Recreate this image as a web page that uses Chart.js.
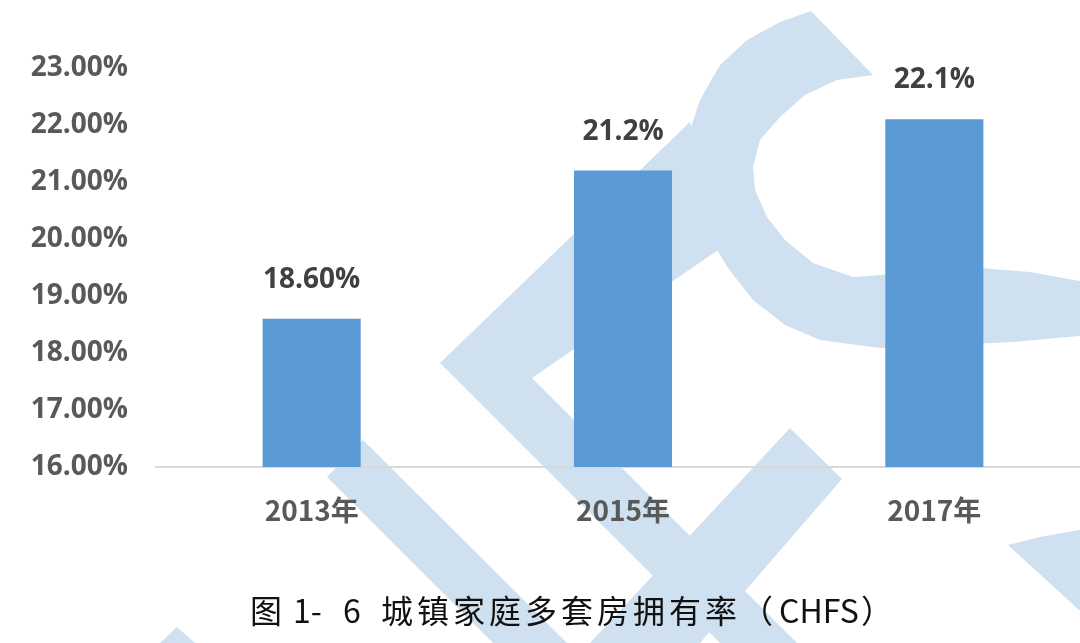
<!DOCTYPE html>
<html lang="zh">
<head>
<meta charset="utf-8">
<title>城镇家庭多套房拥有率</title>
<script src="https://cdn.jsdelivr.net/npm/chart.js@4/dist/chart.umd.min.js"></script>
<style>
    html, body { margin: 0; padding: 0; background: #fff; overflow: hidden; }
    #wrap { position: absolute; left: 0; top: 0; width: 1090px; height: 643px; }
    .baslik {
        position: absolute; top: 589px;
        font-family: "Noto Sans CJK SC", sans-serif; font-size: 32px;
        color: #111; white-space: nowrap; line-height: 40px;
    }
</style>
</head>
<body>
<div id="wrap">
    <canvas id="grafik" width="1090" height="643"></canvas>
    <span class="baslik" style="left:250px">图</span>
    <span class="baslik" style="left:293px">1-</span>
    <span class="baslik" style="left:343px">6</span>
    <span class="baslik" style="left:381px;letter-spacing:4px">城镇家庭多套房拥有率（</span>
    <span class="baslik" style="left:779px">CHFS</span>
    <span class="baslik" style="left:861px">）</span>
</div>
<script>
// Veriler
const yillar = ['2013年', '2015年', '2017年'];
const oranlar = [18.6, 21.2, 22.1];
const etiketler = ['18.60%', '21.2%', '22.1%'];
const yMin = 16;
const yMax = 23;

// Arka plandaki açık mavi filigran
const filigranRengi = 'rgb(207,224,241)';
const filigranSekilleri = [
    [[363, 440], [327, 477], [493, 643], [567, 643]],
    [[690, 122], [440, 363], [720, 643], [797, 643], [532, 378], [718, 250]],
    [[790, 428], [842, 479], [700, 643], [590, 643]],
    [[811, 11], [780, 22], [747, 40], [720, 65], [700, 100], [690, 130], [688, 157], [692, 195],
     [707, 233], [728, 268], [753, 300], [785, 325], [820, 340], [880, 348], [950, 345],
     [1013, 342], [1090, 335], [1090, 283], [1030, 272], [980, 268], [920, 272], [853, 277],
     [813, 263], [785, 240], [767, 217], [755, 190], [753, 167], [760, 140], [780, 117],
     [805, 95], [837, 80], [873, 75]],
    [[1008, 545], [1040, 537], [1090, 528], [1090, 620]],
    [[160, 643], [177, 627], [195, 643]]
];

const filigranEklentisi = {
    id: 'filigran',
    beforeDraw(chart) {
        const ctx = chart.ctx;
        ctx.save();
        ctx.fillStyle = filigranRengi;
        filigranSekilleri.forEach(sekil => {
            ctx.beginPath();
            sekil.forEach((p, i) => i === 0 ? ctx.moveTo(p[0], p[1]) : ctx.lineTo(p[0], p[1]));
            ctx.closePath();
            ctx.fill();
        });
        ctx.restore();
    }
};

// Çubukların üstündeki değer etiketleri
const degerEklentisi = {
    id: 'degerler',
    afterDatasetsDraw(chart) {
        const ctx = chart.ctx;
        const meta = chart.getDatasetMeta(0);
        ctx.save();
        ctx.font = 'bold 28px "Open Sans", sans-serif';
        ctx.fillStyle = '#404040';
        ctx.textAlign = 'center';
        ctx.textBaseline = 'middle';
        meta.data.forEach((bar, i) => {
            ctx.fillText(etiketler[i], bar.x, bar.y - 39);
        });
        ctx.restore();
    }
};

const ctx = document.getElementById('grafik').getContext('2d');
new Chart(ctx, {
    type: 'bar',
    data: {
        labels: yillar,
        datasets: [{
            data: oranlar,
            backgroundColor: '#5b9bd5',
            borderWidth: 0,
            barPercentage: 0.315,
            categoryPercentage: 1
        }]
    },
    options: {
        responsive: false,
        animation: false,
        layout: { padding: { top: 68, bottom: 96, left: 0, right: 0 } },
        plugins: { legend: { display: false }, tooltip: { enabled: false } },
        scales: {
            x: {
                grid: { display: false, drawTicks: false },
                border: { display: true, color: '#d9d9d9', width: 2 },
                ticks: {
                    padding: 27,
                    color: '#595959',
                    font: { family: '"Noto Sans CJK SC", sans-serif', size: 28, weight: 'bold' }
                },
                afterFit(scale) { scale.height = 80; }
            },
            y: {
                min: yMin,
                max: yMax,
                grid: { display: false, drawTicks: false },
                border: { display: false },
                ticks: {
                    stepSize: 1,
                    padding: 28,
                    color: '#595959',
                    font: { family: '"Open Sans", sans-serif', size: 28, weight: 'bold' },
                    callback: v => v.toFixed(2) + '%'
                },
                afterFit(scale) { scale.width = 156; }
            }
        }
    },
    plugins: [filigranEklentisi, degerEklentisi]
});
</script>
</body>
</html>
